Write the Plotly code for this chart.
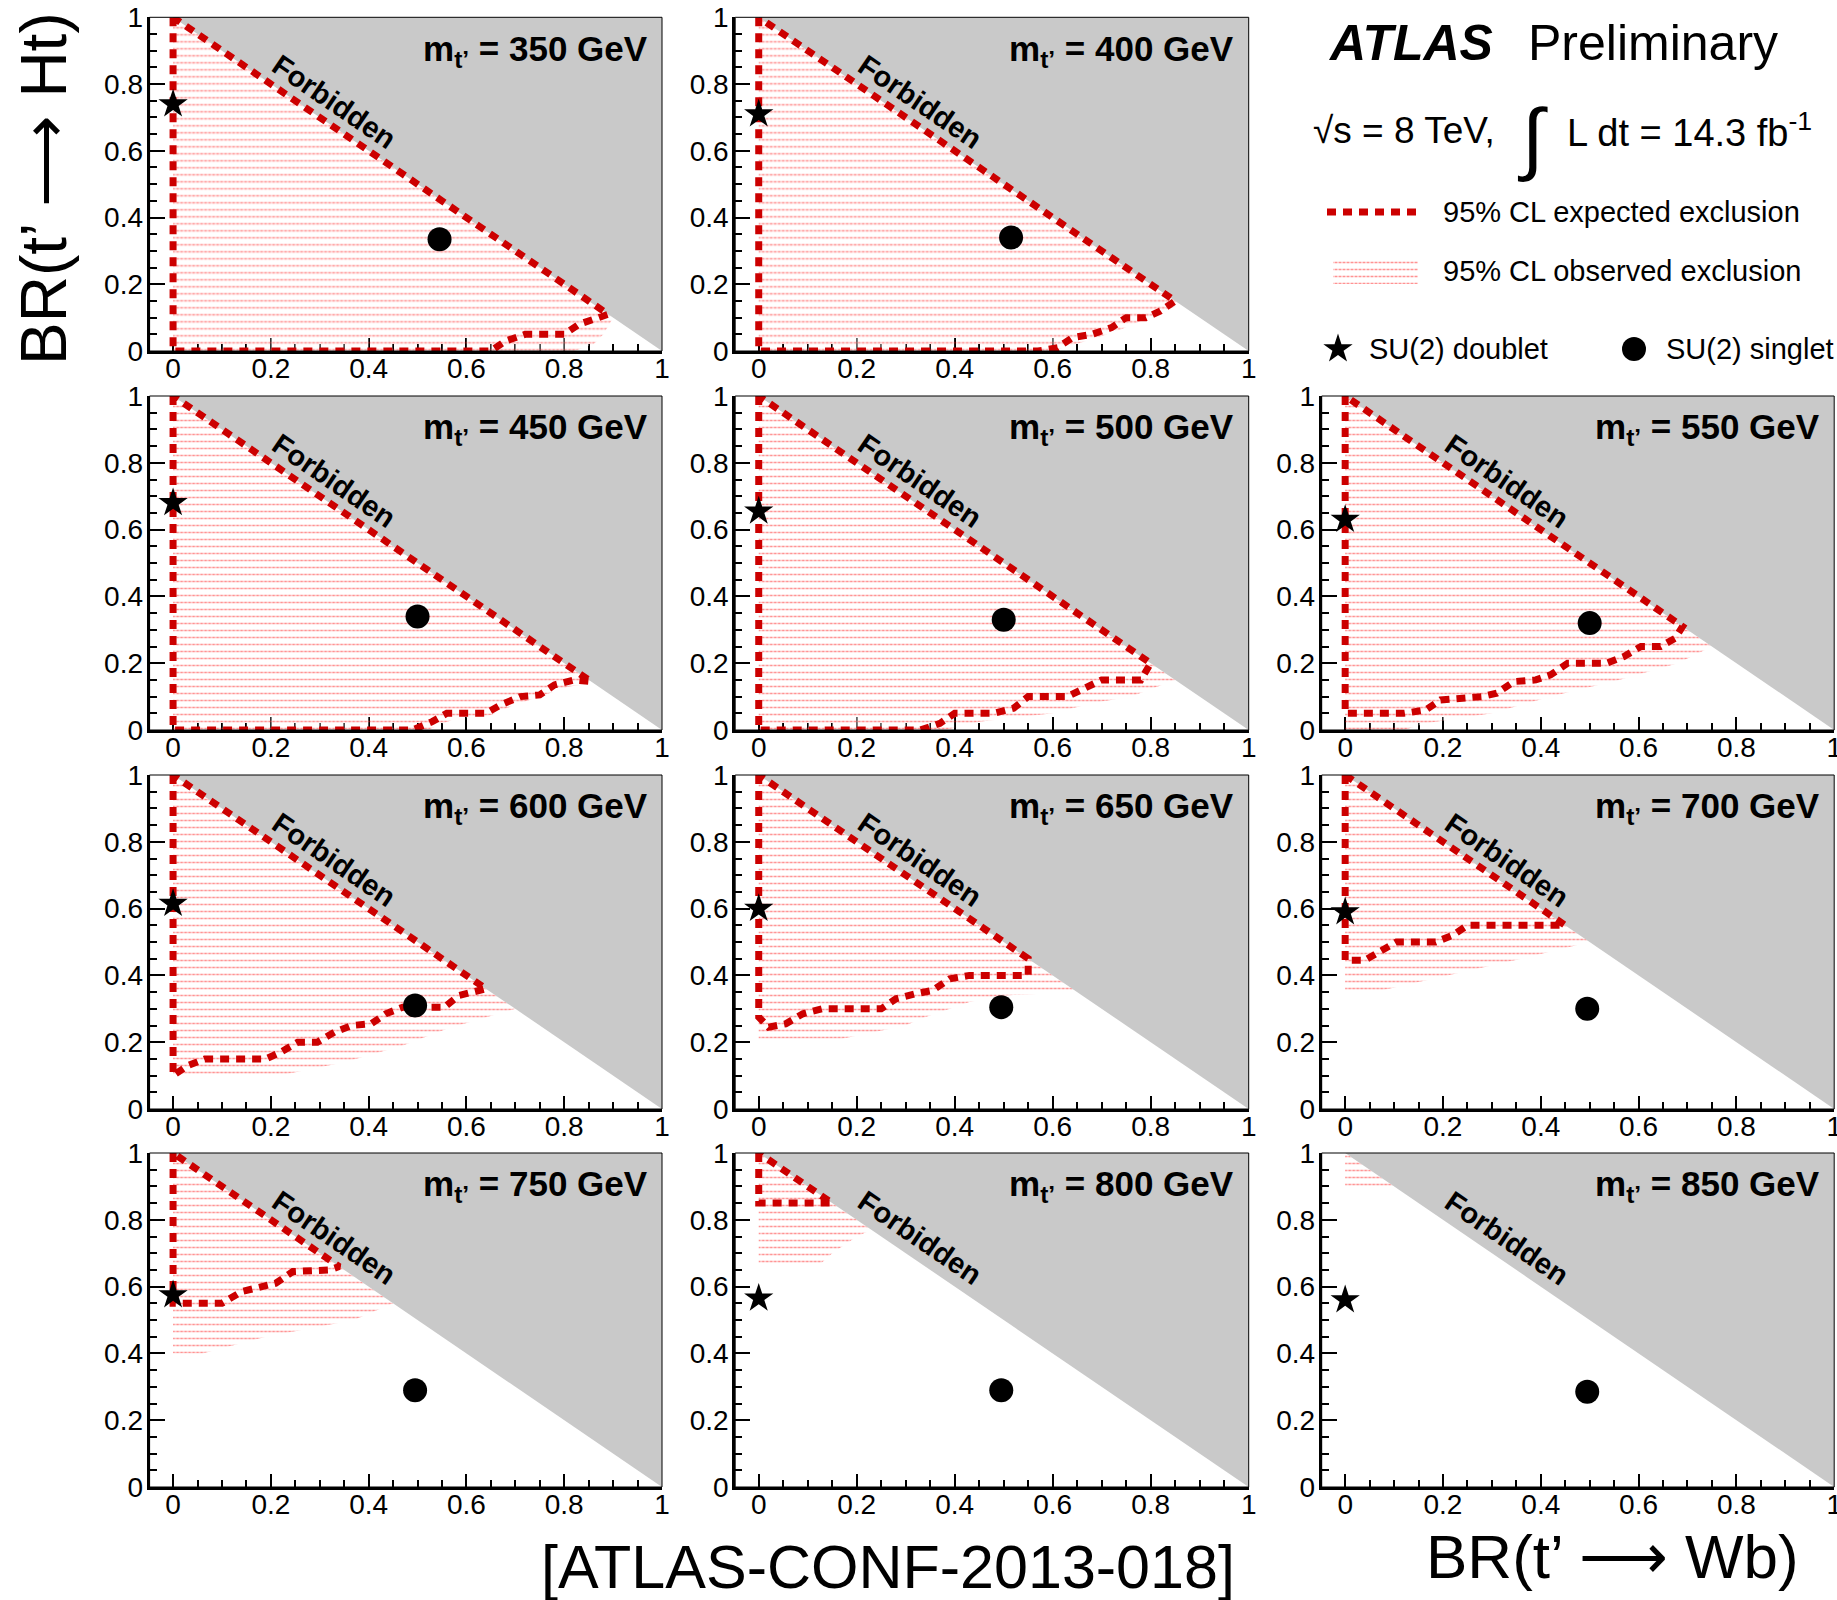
import math
import plotly.graph_objects as go

# ---------------- data ----------------
MASSES = [350, 400, 450, 500, 550, 600, 650, 700, 750, 800, 850]

# SU(2) doublet (star) : BR(Wb)=0, BR(Ht) values
DOUBLET_X = [0, 0, 0, 0, 0, 0, 0, 0, 0, 0, 0]
DOUBLET_Y = [0.74, 0.71, 0.68, 0.655, 0.63, 0.615, 0.60, 0.59, 0.575, 0.565, 0.56]
# SU(2) singlet (circle)
SINGLET_X = [0.545, 0.515, 0.50, 0.50, 0.50, 0.495, 0.495, 0.495, 0.495, 0.495, 0.495]
SINGLET_Y = [0.335, 0.34, 0.34, 0.33, 0.32, 0.31, 0.305, 0.30, 0.29, 0.29, 0.285]

# kinematically forbidden region BR(Wb)+BR(Ht) > 1
FORB_X = [0, 1, 1, 0]
FORB_Y = [1, 0, 1, 1]

# expected exclusion contours
EXP_350_X = [0, 0, 0.65, 0.68, 0.72, 0.80, 0.83, 0.87, 0.89, 0]
EXP_350_Y = [1, 0, 0, 0.03, 0.05, 0.05, 0.08, 0.10, 0.11, 1]
EXP_400_X = [0, 0, 0.57, 0.61, 0.64, 0.68, 0.72, 0.75, 0.79, 0.82, 0.85, 0]
EXP_400_Y = [1, 0, 0, 0.01, 0.04, 0.05, 0.07, 0.10, 0.10, 0.12, 0.15, 1]
EXP_450_X = [0, 0, 0.49, 0.53, 0.56, 0.64, 0.67, 0.71, 0.75, 0.78, 0.82, 0.855, 0]
EXP_450_Y = [1, 0, 0, 0.025, 0.05, 0.05, 0.075, 0.10, 0.105, 0.135, 0.15, 0.145, 1]
EXP_500_X = [0, 0, 0.33, 0.37, 0.40, 0.48, 0.52, 0.55, 0.63, 0.66, 0.70, 0.78, 0.80, 0]
EXP_500_Y = [1, 0, 0, 0.02, 0.05, 0.05, 0.065, 0.10, 0.10, 0.12, 0.15, 0.15, 0.20, 1]
EXP_550_X = [0, 0, 0.12, 0.165, 0.195, 0.28, 0.31, 0.345, 0.39, 0.42, 0.455, 0.535, 0.57, 0.605, 0.645, 0.675, 0.69, 0]
EXP_550_Y = [1, 0.05, 0.05, 0.06, 0.09, 0.10, 0.11, 0.145, 0.15, 0.165, 0.20, 0.20, 0.22, 0.25, 0.25, 0.275, 0.31, 1]
EXP_600_X = [0, 0, 0.03, 0.065, 0.19, 0.22, 0.255, 0.295, 0.33, 0.365, 0.405, 0.435, 0.47, 0.555, 0.585, 0.62, 0.64, 0]
EXP_600_Y = [1, 0.10, 0.13, 0.15, 0.15, 0.17, 0.20, 0.20, 0.23, 0.25, 0.255, 0.285, 0.305, 0.305, 0.34, 0.355, 0.36, 1]
EXP_650_X = [0, 0, 0.02, 0.055, 0.09, 0.13, 0.25, 0.28, 0.32, 0.355, 0.39, 0.43, 0.55, 0.55, 0]
EXP_650_Y = [1, 0.275, 0.245, 0.255, 0.285, 0.30, 0.30, 0.33, 0.345, 0.355, 0.39, 0.40, 0.40, 0.45, 1]
EXP_700_X = [0, 0, 0.04, 0.07, 0.105, 0.185, 0.22, 0.25, 0.45, 0]
EXP_700_Y = [1, 0.445, 0.445, 0.47, 0.50, 0.50, 0.52, 0.55, 0.55, 1]
EXP_750_X = [0, 0, 0.025, 0.10, 0.14, 0.175, 0.21, 0.245, 0.285, 0.32, 0.34, 0]
EXP_750_Y = [1, 0.55, 0.55, 0.55, 0.585, 0.60, 0.61, 0.645, 0.65, 0.65, 0.66, 1]
EXP_800_X = [0, 0, 0.15, 0]
EXP_800_Y = [1, 0.85, 0.85, 1]

# observed exclusion regions
OBS_350_X = [0, 0, 0.82, 0.86, 0.88, 0.90, 0]
OBS_350_Y = [1, 0, 0, 0.02, 0.05, 0.10, 1]
OBS_400_X = [0, 0, 0.60, 0.69, 0.74, 0.78, 0.83, 0.86, 0]
OBS_400_Y = [1, 0, 0, 0.04, 0.065, 0.09, 0.12, 0.14, 1]
OBS_450_X = [0, 0, 0.52, 0.57, 0.65, 0.69, 0.75, 0.81, 0.86, 0]
OBS_450_Y = [1, 0, 0, 0.03, 0.045, 0.07, 0.10, 0.13, 0.14, 1]
OBS_500_X = [0, 0, 0.38, 0.45, 0.60, 0.68, 0.76, 0.85, 0]
OBS_500_Y = [1, 0, 0, 0.025, 0.05, 0.08, 0.10, 0.15, 1]
OBS_550_X = [0, 0, 0.12, 0.165, 0.30, 0.42, 0.56, 0.68, 0.75, 0]
OBS_550_Y = [1, 0, 0, 0.02, 0.05, 0.10, 0.15, 0.20, 0.25, 1]
OBS_600_X = [0, 0, 0.20, 0.35, 0.47, 0.56, 0.70, 0]
OBS_600_Y = [1, 0.095, 0.095, 0.14, 0.19, 0.24, 0.30, 1]
OBS_650_X = [0, 0, 0.17, 0.30, 0.33, 0.43, 0.50, 0.65, 0]
OBS_650_Y = [1, 0.21, 0.21, 0.25, 0.27, 0.32, 0.34, 0.35, 1]
OBS_700_X = [0, 0, 0.06, 0.21, 0.36, 0.50, 0]
OBS_700_Y = [1, 0.35, 0.35, 0.40, 0.45, 0.50, 1]
OBS_750_X = [0, 0, 0.06, 0.19, 0.37, 0.45, 0]
OBS_750_Y = [1, 0.40, 0.40, 0.45, 0.50, 0.55, 1]
OBS_800_X = [0, 0, 0.12, 0.15, 0.20, 0.23, 0]
OBS_800_Y = [1, 0.66, 0.66, 0.70, 0.75, 0.77, 1]
OBS_850_X = [0, 0, 0.10, 0]
OBS_850_Y = [1, 0.90, 0.90, 1]

EXPECTED = {
    350: (EXP_350_X, EXP_350_Y), 400: (EXP_400_X, EXP_400_Y), 450: (EXP_450_X, EXP_450_Y),
    500: (EXP_500_X, EXP_500_Y), 550: (EXP_550_X, EXP_550_Y), 600: (EXP_600_X, EXP_600_Y),
    650: (EXP_650_X, EXP_650_Y), 700: (EXP_700_X, EXP_700_Y), 750: (EXP_750_X, EXP_750_Y),
    800: (EXP_800_X, EXP_800_Y),
}
OBSERVED = {
    350: (OBS_350_X, OBS_350_Y), 400: (OBS_400_X, OBS_400_Y), 450: (OBS_450_X, OBS_450_Y),
    500: (OBS_500_X, OBS_500_Y), 550: (OBS_550_X, OBS_550_Y), 600: (OBS_600_X, OBS_600_Y),
    650: (OBS_650_X, OBS_650_Y), 700: (OBS_700_X, OBS_700_Y), 750: (OBS_750_X, OBS_750_Y),
    800: (OBS_800_X, OBS_800_Y), 850: (OBS_850_X, OBS_850_Y),
}

X_TICKS = [0, 0.2, 0.4, 0.6, 0.8, 1]
X_TICK_TEXT = ["0", "0.2", "0.4", "0.6", "0.8", "1"]

# ---------------- style / layout ----------------
W, H = 1837, 1600
FONT = "Liberation Sans, Arial, Helvetica, sans-serif"
RED = "#cc0000"
DOT_RED = "rgba(255,0,0,0.85)"
GRAY = "#c9c9c9"
DASH = "9px,7px"
GRID = [(0, 0), (1, 0), (0, 1), (1, 1), (2, 1), (0, 2), (1, 2), (2, 2), (0, 3), (1, 3), (2, 3)]
COL_PX = [(149.6, 662.0), (735.2, 1248.7), (1321.7, 1834.2)]
ROW_PX = [(17.3, 351.0), (396.0, 730.0), (775.0, 1109.0), (1153.0, 1487.0)]
XMIN = -0.048
ROWS_PAT = dict(shape="-", fgcolor=DOT_RED, bgcolor="rgba(0,0,0,0)", size=7, solidity=0.22)
GAPS_PAT = dict(shape="|", fgcolor="white", bgcolor="rgba(0,0,0,0)", size=4, solidity=0.5)

fig = go.Figure()
layout_axes = {}
annotations = []
shapes = []


def add_dotted(x, y, xa, ya):
    for pat in (ROWS_PAT, GAPS_PAT):
        fig.add_trace(go.Scatter(x=x, y=y, xaxis=xa, yaxis=ya, mode="lines", fill="toself",
                                 fillcolor="rgba(0,0,0,0)", fillpattern=pat,
                                 line=dict(width=0, color="rgba(0,0,0,0)"),
                                 hoverinfo="skip", showlegend=False))


for i, m in enumerate(MASSES):
    n = i + 1
    sx = "" if n == 1 else str(n)
    xa, ya = "x" + sx, "y" + sx
    c, r = GRID[i]
    x0p, x1p = COL_PX[c]
    y0p, y1p = ROW_PX[r]
    xdom = [x0p / W, x1p / W]
    ydom = [1 - y1p / H, 1 - y0p / H]
    ppu_x = (x1p - x0p) / (1 - XMIN)
    ppu_y = (y1p - y0p)
    ang = math.degrees(math.atan(ppu_y / ppu_x))

    ox, oy = OBSERVED[m]
    add_dotted(ox, oy, xa, ya)
    fig.add_trace(go.Scatter(x=FORB_X, y=FORB_Y, xaxis=xa, yaxis=ya, mode="lines", fill="toself",
                             fillcolor=GRAY, line=dict(width=0, color=GRAY),
                             hoverinfo="skip", showlegend=False))
    if m in EXPECTED:
        ex, ey = EXPECTED[m]
        fig.add_trace(go.Scatter(x=ex, y=ey, xaxis=xa, yaxis=ya, mode="lines",
                                 line=dict(color=RED, width=7, dash=DASH),
                                 hoverinfo="skip", showlegend=False))
    fig.add_trace(go.Scatter(x=[DOUBLET_X[i]], y=[DOUBLET_Y[i]], xaxis=xa, yaxis=ya, mode="markers",
                             marker=dict(symbol="star", size=22, color="black"),
                             cliponaxis=False, hoverinfo="skip", showlegend=False))
    fig.add_trace(go.Scatter(x=[SINGLET_X[i]], y=[SINGLET_Y[i]], xaxis=xa, yaxis=ya, mode="markers",
                             marker=dict(symbol="circle", size=24, color="black"),
                             cliponaxis=False, hoverinfo="skip", showlegend=False))

    common = dict(showgrid=False, zeroline=False, showline=True, linecolor="black", linewidth=3,
                  ticks="inside", tickwidth=2, tickcolor="black",
                  tickvals=X_TICKS, ticktext=X_TICK_TEXT,
                  minor=dict(ticks="inside", ticklen=7, tickwidth=2, tickcolor="black",
                             dtick=0.05, tick0=0, showgrid=False),
                  tickfont=dict(family=FONT, size=28, color="black"),
                  ticklabeloverflow="allow",
                  layer="below traces", fixedrange=True, automargin=False)
    layout_axes["xaxis" + sx] = dict(common, domain=xdom, range=[XMIN, 1], anchor=ya, ticklen=13,
                                     ticklabelstandoff=-10)
    layout_axes["yaxis" + sx] = dict(common, domain=ydom, range=[0, 1], anchor=xa, ticklen=15,
                                     ticklabelstandoff=-2)

    shapes.append(dict(type="rect", xref=xa + " domain", yref=ya + " domain", x0=0, x1=1, y0=0, y1=1,
                       line=dict(color="black", width=1), layer="above"))
    annotations.append(dict(text="<b>Forbidden</b>", x=0.33, y=0.745, xref=xa, yref=ya,
                            textangle=ang, showarrow=False,
                            font=dict(family=FONT, size=29, color="black")))
    annotations.append(dict(text=f"<b>m<sub>t’</sub> = {m} GeV</b>", x=0.975, y=0.90, xref=xa, yref=ya,
                            xanchor="right", yanchor="middle", showarrow=False,
                            font=dict(family=FONT, size=35, color="black")))

# ---------------- legend panel (pixel-based helper axis) ----------------
layout_axes["xaxis12"] = dict(domain=[1300 / W, 1.0], range=[1300, 1837], visible=False, fixedrange=True,
                              anchor="y12", automargin=False)
layout_axes["yaxis12"] = dict(domain=[1 - 370 / H, 1.0], range=[370, 0], visible=False, fixedrange=True,
                              anchor="x12", automargin=False)
fig.add_trace(go.Scatter(x=[1327, 1418], y=[212, 212], xaxis="x12", yaxis="y12", mode="lines",
                         line=dict(color=RED, width=7, dash=DASH), hoverinfo="skip", showlegend=False))
add_dotted([1333, 1418, 1418, 1333, 1333], [258, 258, 284, 284, 258], "x12", "y12")
fig.add_trace(go.Scatter(x=[1338], y=[349], xaxis="x12", yaxis="y12", mode="markers",
                         marker=dict(symbol="star", size=22, color="black"), cliponaxis=False,
                         hoverinfo="skip", showlegend=False))
fig.add_trace(go.Scatter(x=[1634], y=[349], xaxis="x12", yaxis="y12", mode="markers",
                         marker=dict(symbol="circle", size=24, color="black"), cliponaxis=False,
                         hoverinfo="skip", showlegend=False))


def ptxt(text, xpx, ypx, size, xanchor="left", angle=0):
    annotations.append(dict(text=text, x=xpx / W, y=1 - ypx / H, xref="paper", yref="paper",
                            xanchor=xanchor, yanchor="middle", showarrow=False, textangle=angle,
                            font=dict(family=FONT, size=size, color="black")))


ptxt("<b><i>ATLAS</i></b>", 1326, 43, 50)
ptxt("Preliminary", 1526, 43, 50)
ptxt("√s = 8 TeV,", 1311, 130, 37)
ptxt("∫", 1532, 138, 80, xanchor="center")
ptxt("L dt = 14.3 fb<sup>-1</sup>", 1565, 130, 38)
ptxt("95% CL expected exclusion", 1441, 212, 29)
ptxt("95% CL observed exclusion", 1441, 271, 29)
ptxt("SU(2) doublet", 1367, 349, 29)
ptxt("SU(2) singlet", 1664, 349, 29)

ptxt("BR(t’ ⟶ Ht)", 44, 189, 64, xanchor="center", angle=-90)
ptxt("BR(t’ ⟶ Wb)", 1612, 1556, 62, xanchor="center")
ptxt("[ATLAS-CONF-2013-018]", 888, 1567, 61, xanchor="center")

fig.update_layout(width=W, height=H, margin=dict(l=0, r=0, t=0, b=0, pad=0, autoexpand=False),
                  autosize=False,
                  paper_bgcolor="white", plot_bgcolor="white", showlegend=False,
                  annotations=annotations, shapes=shapes, **layout_axes)
fig.write_html("out.html")
